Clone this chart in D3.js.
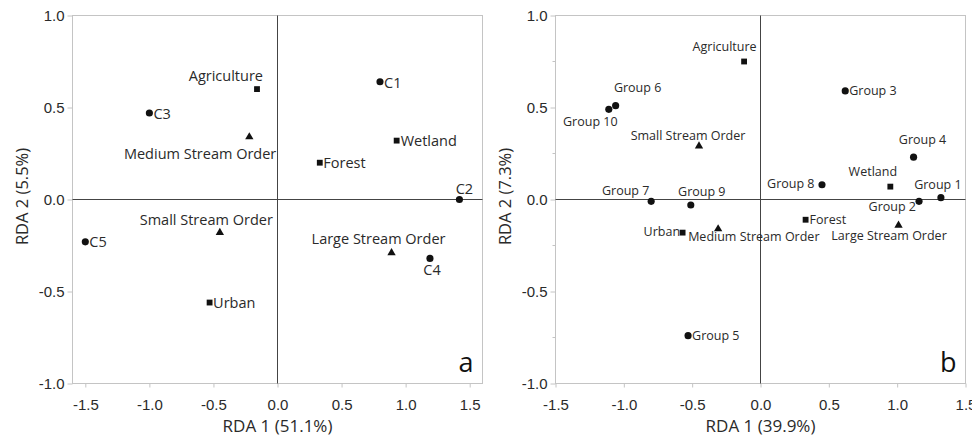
<!DOCTYPE html>
<html>
<head>
<meta charset="utf-8">
<script src="https://cdn.jsdelivr.net/npm/d3@7"></script>
<style>
  body { margin: 0; background: #fff; }
  svg { display: block; font-family: "Open Sans", "Noto Sans", sans-serif; }
</style>
</head>
<body>
<svg id="chart" width="972" height="436"></svg>
<script>
// ---- panel a: clusters C1..C5 + environmental variables
const aNames = ["Agriculture", "C3", "Medium Stream Order", "C1", "Wetland", "Forest", "C2",
                "Small Stream Order", "C5", "Large Stream Order", "C4", "Urban"];
const aX = [-0.16, -1.00, -0.22, 0.80, 0.93, 0.33, 1.42, -0.45, -1.50, 0.89, 1.19, -0.53];
const aY = [0.60, 0.47, 0.34, 0.64, 0.32, 0.20, 0.00, -0.18, -0.23, -0.29, -0.32, -0.56];
const aKind = ["land", "site", "order", "site", "land", "land", "site", "order", "site", "order", "site", "land"];

// ---- panel b: groups 1..10 + environmental variables
const bNames = ["Agriculture", "Group 6", "Group 10", "Small Stream Order", "Group 3", "Group 4", "Wetland",
                "Group 8", "Group 1", "Group 2", "Group 7", "Group 9", "Forest", "Medium Stream Order",
                "Urban", "Large Stream Order", "Group 5"];
const bX = [-0.12, -1.06, -1.11, -0.45, 0.62, 1.12, 0.95, 0.45, 1.32, 1.16, -0.80, -0.51, 0.33, -0.31, -0.57, 1.01, -0.53];
const bY = [0.75, 0.51, 0.49, 0.29, 0.59, 0.23, 0.07, 0.08, 0.01, -0.01, -0.01, -0.03, -0.11, -0.16, -0.18, -0.14, -0.74];
const bKind = ["land", "site", "site", "order", "site", "site", "land", "site", "site", "site", "site", "site",
               "land", "order", "land", "order", "site"];

const xTicks = [-1.5, -1.0, -0.5, 0.0, 0.5, 1.0, 1.5];
const yTicks = [-1.0, -0.5, 0.0, 0.5, 1.0];
const yMinor = [-0.75, -0.25, 0.25, 0.75];

// label placement (anchor, dx, dy to baseline) keyed by name
const aPlace = {
  "Agriculture": ["end", 6, -8], "C3": ["start", 4, 5.5], "Medium Stream Order": ["end", 27, 22],
  "C1": ["start", 4, 6.5], "Wetland": ["start", 4, 5.5], "Forest": ["start", 3.5, 5.5],
  "C2": ["middle", 5, -6], "Small Stream Order": ["end", 53, -8], "C5": ["start", 4, 5.5],
  "Large Stream Order": ["middle", -13, -9], "C4": ["middle", 2, 17], "Urban": ["start", 3.5, 5.5]
};
const bPlace = {
  "Agriculture": ["end", 12.5, -11], "Group 6": ["middle", 22, -14], "Group 10": ["middle", -18.5, 17],
  "Small Stream Order": ["middle", -11, -6], "Group 3": ["start", 4, 4], "Group 4": ["middle", 9, -13],
  "Wetland": ["middle", -17.5, -11], "Group 8": ["end", -7.5, 3.5], "Group 1": ["middle", -3, -9],
  "Group 2": ["end", -3, 10], "Group 7": ["middle", -25.5, -6.5], "Group 9": ["middle", 11, -9],
  "Forest": ["start", 4, 4], "Medium Stream Order": ["start", -30, 12.5], "Urban": ["end", -2.5, 3.5],
  "Large Stream Order": ["middle", -9.5, 15], "Group 5": ["start", 4, 4]
};

const svg = d3.select("#chart");
const gridCol = "#c4c4c4", textCol = "#2a2a2a";

function panel(opt) {
  const x = d3.scaleLinear().domain(opt.xDomain).range(opt.xRange);
  const y = d3.scaleLinear().domain([-1, 1]).range([383.5, 15.5]);
  const g = svg.append("g");

  // frame
  g.append("rect")
    .attr("x", opt.xRange[0]).attr("y", y(1))
    .attr("width", opt.xRange[1] - opt.xRange[0]).attr("height", y(-1) - y(1))
    .attr("fill", "none").attr("stroke", gridCol);

  const xAxis = g.append("g")
    .attr("transform", "translate(0," + y(-1) + ")")
    .call(d3.axisBottom(x).tickValues(xTicks).tickSize(4).tickSizeOuter(0).tickFormat(d => d.toFixed(1)));
  const yAxis = g.append("g")
    .attr("transform", "translate(" + opt.xRange[0] + ",0)")
    .call(d3.axisLeft(y).tickValues(yTicks).tickSize(5).tickSizeOuter(0).tickPadding(3).tickFormat(d => d.toFixed(1)));
  [xAxis, yAxis].forEach(a => {
    a.select(".domain").remove();
    a.selectAll("line").attr("stroke", gridCol);
    a.selectAll("text").attr("fill", textCol).style("font-size", "15px");
  });
  xAxis.selectAll("text").attr("dy", "1.3em");
  yAxis.selectAll("text").attr("dy", "0.36em");

  if (opt.minor) {
    g.append("g").selectAll("line").data(yMinor).join("line")
      .attr("x1", opt.xRange[0] - 3).attr("x2", opt.xRange[0])
      .attr("y1", d => y(d)).attr("y2", d => y(d))
      .attr("stroke", gridCol);
  }

  // zero lines
  g.append("line").attr("x1", opt.xRange[0]).attr("x2", opt.xRange[1])
    .attr("y1", y(0)).attr("y2", y(0)).attr("stroke", "#444");
  g.append("line").attr("x1", x(0)).attr("x2", x(0))
    .attr("y1", y(1)).attr("y2", y(-1)).attr("stroke", "#444");

  // axis titles
  g.append("text")
    .attr("x", (opt.xRange[0] + opt.xRange[1]) / 2).attr("y", 432)
    .attr("text-anchor", "middle").attr("fill", textCol).style("font-size", "17px")
    .text(opt.xTitle);
  g.append("text")
    .attr("transform", "translate(" + opt.yTitleX + "," + (y(0) - 3) + ") rotate(-90)")
    .attr("text-anchor", "middle").attr("fill", textCol).style("font-size", "16.5px")
    .text(opt.yTitle);

  // panel letter
  g.append("text")
    .attr("x", opt.xRange[1] - 9).attr("y", 372)
    .attr("text-anchor", "end").attr("fill", "#111").style("font-size", "27px")
    .text(opt.letter);

  // markers
  const data = opt.names.map((n, i) => ({ name: n, x: opt.xs[i], y: opt.ys[i], kind: opt.kinds[i] }));
  const sym = { site: d3.symbolCircle, land: d3.symbolSquare, order: d3.symbolTriangle };
  const size = { site: 40, land: 34, order: 30 };
  g.append("g").selectAll("path").data(data).join("path")
    .attr("transform", d => "translate(" + x(d.x) + "," + y(d.y) + ")")
    .attr("d", d => d3.symbol(sym[d.kind], size[d.kind])())
    .attr("fill", "#111");

  g.append("g").selectAll("text").data(data).join("text")
    .attr("x", d => x(d.x) + opt.place[d.name][1])
    .attr("y", d => y(d.y) + opt.place[d.name][2])
    .attr("text-anchor", d => opt.place[d.name][0])
    .attr("fill", textCol).style("font-size", opt.labelSize)
    .text(d => d.name);
}

panel({ xDomain: [-1.6, 1.6], xRange: [72.5, 482.5], minor: false,
        xTitle: "RDA 1 (51.1%)", yTitle: "RDA 2 (5.5%)", yTitleX: 28, letter: "a",
        names: aNames, xs: aX, ys: aY, kinds: aKind, place: aPlace, labelSize: "14.5px" });
panel({ xDomain: [-1.5, 1.5], xRange: [555.5, 965.5], minor: true,
        xTitle: "RDA 1 (39.9%)", yTitle: "RDA 2 (7.3%)", yTitleX: 511, letter: "b",
        names: bNames, xs: bX, ys: bY, kinds: bKind, place: bPlace, labelSize: "12.5px" });
</script>
</body>
</html>
